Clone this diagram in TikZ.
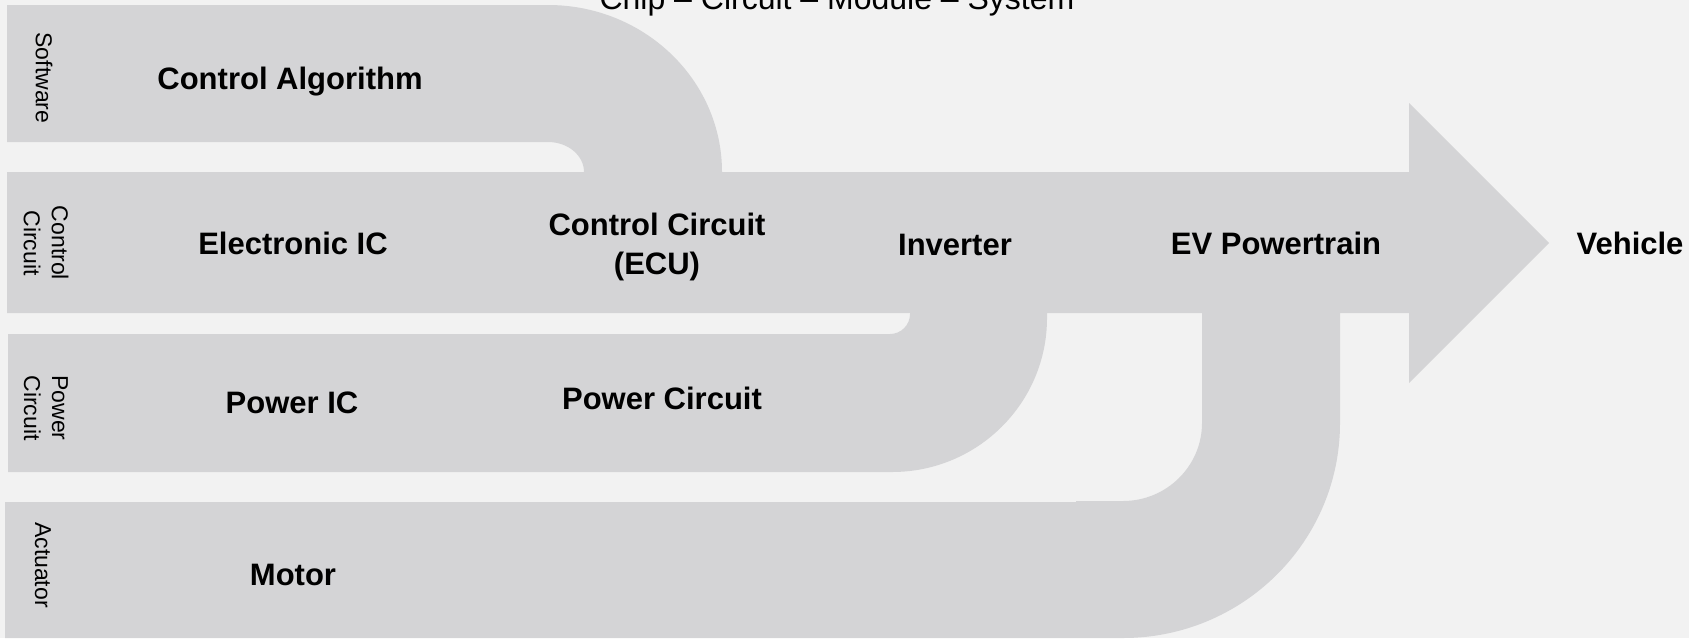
\documentclass[tikz,border=0pt]{standalone}
\usepackage{fontspec}
\setmainfont{Liberation Sans}
\definecolor{bandgrey}{RGB}{212,212,214}
\definecolor{bggrey}{RGB}{242,242,242}
\begin{document}
\begin{tikzpicture}[x=0.5pt,y=-0.5pt,
  band/.style={fill=bandgrey,draw=none},
  lbl/.style={font=\bfseries\fontsize{15.5}{19.5}\selectfont,align=center,text=black,inner sep=0pt},
  side/.style={font=\fontsize{11.5}{14}\selectfont,rotate=-90,align=center,text=black,inner sep=0pt},
  ttl/.style={font=\fontsize{16}{19}\selectfont,text=black,inner sep=0pt}]
\fill[bggrey] (0,0) rectangle (1689,638);
\useasboundingbox (0,0) rectangle (1689,638);
% Software band bending down into control band
\path[band] (7,5) -- (548,5) .. controls (644.1,5) and (722,79.8) .. (722,172)
  -- (722,176) -- (584,176) -- (584,172)
  .. controls (584,155.4) and (567.9,142) .. (548,142) -- (7,142) -- cycle;
% Control band with arrow head
\path[band] (7,172) -- (1409,172) -- (1409,103) -- (1549,243) -- (1409,383)
  -- (1409,313) -- (7,313) -- cycle;
% Power band bending up into control band
\path[band] (8,334) -- (890,334) .. controls (901,334) and (910,325) .. (910,314)
  -- (910,309) -- (1047,309) -- (1047,318)
  .. controls (1047,403) and (977.6,472) .. (892,472) -- (8,472) -- cycle;
% Actuator band bending up into control band
\path[band] (5,502) -- (1076,502) -- (1076,501) -- (1123,501)
  .. controls (1166.6,501) and (1202,466) .. (1202,423)
  -- (1202,309) -- (1340,309) -- (1340,423)
  .. controls (1340,541.7) and (1242.8,638) .. (1123,638) -- (5,638) -- cycle;
% title
\node[ttl,anchor=base] (title) at (837,9.5) {Chip – Circuit – Module – System};
% side labels
\node[side] (sw) at (44,78) {Software};
\node[side] (cc) at (46,243) {Control\\Circuit};
\node[side] (pc) at (46,408) {Power\\Circuit};
\node[side] (ac) at (43,565) {Actuator};
% main labels
\node[lbl] (alg) at (290,81.5) {Control Algorithm};
\node[lbl] (eic) at (293,243) {Electronic IC};
\node[lbl] (ecu) at (657,247) {Control Circuit\\(ECU)};
\node[lbl] (inv) at (955,245) {Inverter};
\node[lbl] (evp) at (1276,243) {EV Powertrain};
\node[lbl] (veh) at (1630,243) {Vehicle};
\node[lbl] (pic) at (292,403) {Power IC};
\node[lbl] (pcc) at (662,398) {Power Circuit};
\node[lbl] (mot) at (293,575) {Motor};
\end{tikzpicture}
\end{document}
